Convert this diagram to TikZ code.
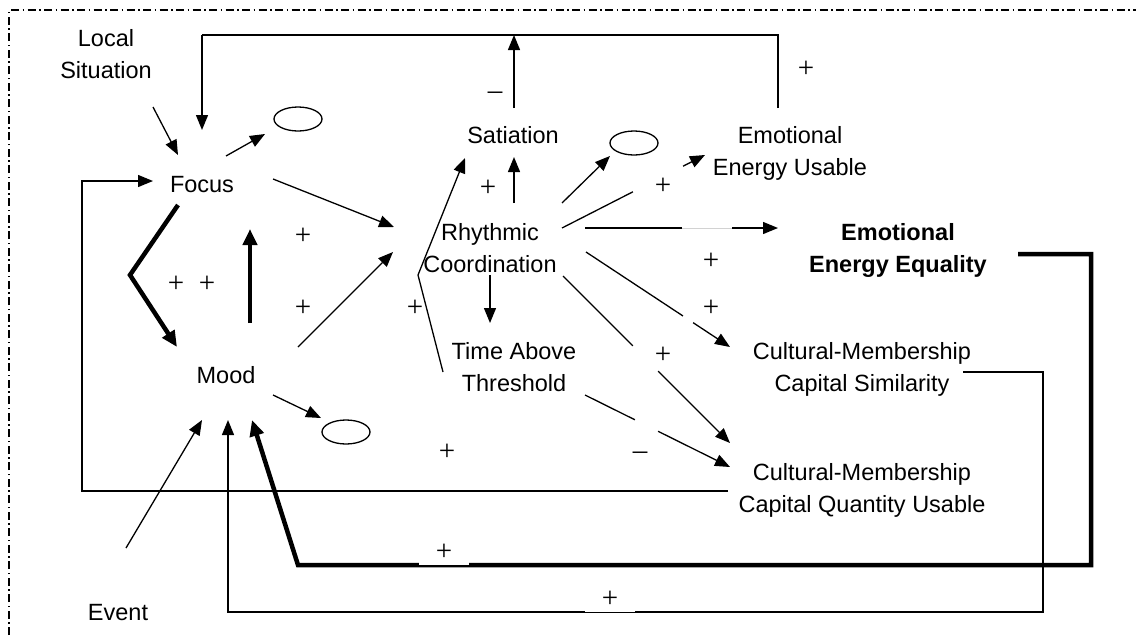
\documentclass[tikz,border=0pt]{standalone}
\usepackage{fontspec}
\setmainfont{Liberation Sans}
\newfontfamily\signfamily{Liberation Serif}
\usetikzlibrary{arrows.meta,calc,shapes.geometric}
\newcommand\varsize{\fontsize{23.5}{32}\selectfont}
\newcommand\signsize{\signfamily\fontsize{29}{32}\selectfont}

\begin{document}
\begin{tikzpicture}[x=1pt,y=-1pt,
  var/.style={inner sep=0pt, align=center, font=\varsize},
  sink/.style={draw, ellipse, line width=1.3pt, minimum width=48pt, minimum height=24pt, inner sep=0pt},
  link/.style={line width=1.3pt, -{Triangle[length=15pt,width=12pt]}},
  strong/.style={line width=4.5pt, -{Triangle[length=16pt,width=14pt]}},
  sign/.style={font=\signsize, inner sep=0pt, anchor=base},
  boxsign/.style={font=\signsize, fill=white, inner sep=0pt, minimum width=50pt, minimum height=24pt, anchor=south},
  gapmask/.style={white, line width=5pt},
  faint/.style={gray!35, line width=0.5pt},
  frame/.style={line width=1.3pt, dash pattern=on 8pt off 3.5pt on 1.5pt off 3.5pt}
]
\useasboundingbox (0,0) rectangle (1136,635);

% outer dash-dot frame
\draw[frame] (9,635) -- (9,10) -- (1136,10);

% variables
\node[var] (local) at (106,56) {\strut Local\\\strut Situation};
\node[var] (focus) at (202,186) {\strut Focus};
\node[var] (mood)  at (226,377) {\strut Mood};
\node[var] (sat)   at (513,137) {\strut Satiation};
\node[var] (rhy)   at (490,250) {\strut Rhythmic\\\strut Coordination};
\node[var] (tat)   at (514,369) {\strut Time Above\\\strut Threshold};
\node[var] (eeu)   at (790,153) {\strut Emotional\\\strut Energy Usable};
\node[var,font=\varsize\bfseries] (eee) at (898,250) {\strut Emotional\\\strut Energy Equality};
\node[var] (cms)   at (862,369) {\strut Cultural-Membership\\\strut Capital Similarity};
\node[var] (cmq)   at (862,490) {\strut Cultural-Membership\\\strut Capital Quantity Usable};
\node[var] (event) at (118,614) {\strut Event};

% sinks
\node[sink] (s1) at (298,119) {};
\node[sink] (s2) at (634,143) {};
\node[sink] (s3) at (346,432) {};

% inputs to focus
\draw[link] ($(local)+(47,51)$) -- ($(focus)+(-24,-31)$);
\draw[link] ($(focus)+(24,-30)$) -- ($(s1)+(-33,15)$);
\draw[link] ($(focus)+(71,-7)$) -- ($(rhy)+(-96,-23)$);

% feedback loops
\draw[link] ($(cmq)+(-134,1)$) -| ($(focus)+(-120,-5)$) -- ($(focus)+(-49,-5)$);
\draw[line width=1.3pt] ($(eeu)+(-12,-45)$) |- ($(focus)+(0,-151)$) coordinate (topleft);
\draw[link] (topleft) -- ($(focus)+(0,-56)$);
\draw[link] ($(sat)+(1,-29)$) -- ($(sat)+(1,-102)$);
\draw[link] ($(cms)+(101,3)$) -- ++(80,0) |- ($(mood)+(2,235)$) -- ($(mood)+(2,43)$);
\draw[strong] ($(eee)+(120,4)$) -- ++(73,0) |- ($(mood)+(72,188)$) -- ($(mood)+(26,43)$);

% focus and mood
\draw[strong] ($(focus)+(-24,19)$) -- ($(focus)+(-72,89)$) -- ($(mood)+(-49,-30)$);
\draw[strong] ($(mood)+(24,-54)$) -- ($(focus)+(48,43)$);
\draw[link] ($(mood)+(72,-30)$) -- ($(rhy)+(-97,2)$);
\draw[link] ($(mood)+(47,18)$) -- ($(s3)+(-25,-14)$);
\draw[link] ($(event)+(8,-66)$) -- ($(mood)+(-24,43)$);

% rhythmic coordination
\draw[link] ($(rhy)+(24,-47)$) -- ($(sat)+(1,20)$);
\draw[link] ($(tat)+(-71,3)$) -- ($(rhy)+(-72,25)$) -- ($(sat)+(-48,21)$);
\draw[link] ($(rhy)+(0,25)$) -- ($(tat)+(-24,-46)$);
\draw[link] ($(rhy)+(72,-47)$) -- ($(s2)+(-24,13)$);
\draw[link] ($(rhy)+(72,-22)$) coordinate (a18) -- ($(eeu)+(-85,2)$) coordinate (b18);
\draw[link] ($(rhy)+(95,-22)$) coordinate (a19) -- ($(eee)+(-120,-22)$) coordinate (b19);
\draw[link] ($(rhy)+(96,2)$) coordinate (a20) -- ($(cms)+(-132,-22)$) coordinate (b20);
\draw[link] ($(rhy)+(73,26)$) coordinate (a21) -- ($(cmq)+(-132,-47)$) coordinate (b21);
\draw[link] ($(tat)+(71,26)$) coordinate (a22) -- ($(cmq)+(-132,-23)$) coordinate (b22);

% breaks in the connectors
\draw[gapmask] ($(a18)!0.497!(b18)$) -- ($(a18)!0.846!(b18)$);
\draw[gapmask] ($(a19)!0.503!(b19)$) -- ($(a19)!0.762!(b19)$);
\draw[faint] ($(a19)!0.503!(b19)$) -- ($(a19)!0.762!(b19)$);
\draw[gapmask] ($(a20)!0.674!(b20)$) -- ($(a20)!0.743!(b20)$);
\draw[gapmask] ($(a21)!0.419!(b21)$) -- ($(a21)!0.569!(b21)$);
\draw[gapmask] ($(a22)!0.345!(b22)$) -- ($(a22)!0.503!(b22)$);

% polarity signs
\node[sign] (m1) at (495,99) {–};
\node[sign] (p1) at (806,77) {+};
\node[sign] (p2) at (176,292) {+};
\node[sign] (p3) at (207,292) {+};
\node[sign] (p4) at (303,244) {+};
\node[sign] (p5) at (303,316) {+};
\node[sign] (p6) at (415,316) {+};
\node[sign] (p7) at (488,196) {+};
\node[sign] (p8) at (663,194) {+};
\node[sign] (p9) at (711,269) {+};
\node[sign] (p10) at (711,316) {+};
\node[sign] (p11) at (663,363) {+};
\node[sign] (p12) at (447,460) {+};
\node[sign] (m2) at (640,459) {–};
\node[boxsign] (p13) at (444,565) {+};
\node[boxsign] (p14) at (610,612) {+};
\end{tikzpicture}
\end{document}
